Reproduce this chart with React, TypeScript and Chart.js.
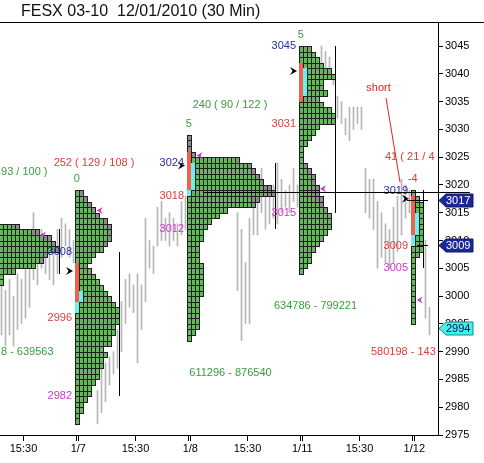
import React, { useEffect, useRef } from 'react';
import { Chart, registerables } from 'chart.js';

Chart.register(...registerables);

const TITLE = 'FESX 03-10  12/01/2010 (30 Min)';
const FONT = '"Liberation Sans", Arial, sans-serif';

// price axis
const Y_MIN = 2975;
const Y_MAX = 3049.32;
const Y_STEP = 5;

// time axis in 30-minute bar units (1/7 session start = 0, 28 bars per session)
const X_MIN = -18.875;
const X_MAX = 90.625;
const SESSION_STARTS = [-28, 0, 28, 56, 84];
const SESSION_DATES = ['1/6', '1/7', '1/8', '1/11', '1/12'];
const DATE_TICK_OFFSETS = [0.15, 0.7];
const MIDDAY_OFFSET = 15;
const MIDDAY_LABEL = '15:30';

// gray 30-minute bars (high / low), starting at bar index *_FIRST of each session
const BARS_0106_FIRST = 9;
const BARS_0106_HIGH = [3002, 3001, 3003, 3000, 3004, 3003, 3005, 3006, 3015, 3010, 3012, 3011, 3010, 3009, 3012, 3014, 3013, 3012, 3010];
const BARS_0106_LOW = [2993, 2991, 2993, 2991, 2994, 2995, 2996, 2998, 3003, 3002, 3005, 3004, 3003, 3002, 3004, 3007, 3009, 3007, 3006];
const BARS_0107_FIRST = 5;
const BARS_0107_HIGH = [2983, 2987, 2988, 2989, 2990, 2994, 2999, 3003, 3004, 3002, 3004, 3002, 3014, 3010, 3009, 3016, 3017, 3014, 3015, 3014, 3013, 3017, 3018];
const BARS_0107_LOW = [2977, 2979, 2981, 2984, 2986, 2987, 2990, 2995, 2998, 2997, 2988, 2994, 2999, 3005, 3004, 3009, 3010, 3010, 3009, 3010, 3009, 3011, 3012];
const BARS_0108_FIRST = 12;
const BARS_0108_HIGH = [3015, 3012, 3006, 3014, 3016, 3017, 3023, 3018, 3018, 3020, 3024, 3021, 3019, 3020, 3023, 3020];
const BARS_0108_LOW = [3001, 2992, 2995, 2995, 3011, 3011, 3015, 3012, 3013, 3014, 3013, 3015, 3016, 3015, 3017, 3016];
const BARS_0111_FIRST = 5;
const BARS_0111_HIGH = [3045, 3044, 3043, 3040, 3036, 3035, 3032, 3034, 3034, 3034, 3034, 3023, 3021, 3021, 3017, 3015, 3013, 3012, 3016, 3018, 3021, 3020, 3019];
const BARS_0111_LOW = [3041, 3040, 3039, 3038, 3032, 3031, 3029, 3028, 3030, 3031, 3030, 3015, 3014, 3012, 3005, 3007, 3006, 3005, 3006, 3008, 3011, 3014, 3015];
const BARS_0112_FIRST = 3;
const BARS_0112_HIGH = [3010, 2998];
const BARS_0112_LOW = [2996, 2993];

// TPO profiles: row widths (TPO count) from the top price down, gray TPOs at the end of each row
const P1_TOP = 3012;
const P1_WIDTH = [14, 19, 22, 23, 24, 21, 20, 18, 13, 10, 10];
const P1_GRAY = [2, 2, 2, 1, 1, 1, 1, 0, 0, 0, 0];
const P2_TOP = 3018;
const P2_WIDTH = [2, 3, 4, 5, 6, 8, 9, 9, 9, 8, 7, 5, 4, 3, 4, 5, 6, 7, 8, 9, 10, 11, 11, 11, 10, 10, 9, 9, 7, 8, 7, 7, 6, 6, 5, 4, 4, 3, 2, 2, 1, 1];
const P2_GRAY = [1, 1, 1, 1, 1, 1, 1, 1, 1, 1, 0, 0, 0, 0, 0, 0, 0, 0, 0, 0, 0, 0, 0, 0, 0, 0, 0, 0, 0, 0, 0, 0, 0, 0, 0, 0, 0, 0, 0, 0, 0, 0];
const P3_TOP = 3028;
const P3_WIDTH = [1, 1, 1, 2, 13, 16, 17, 18, 19, 21, 22, 18, 17, 10, 8, 6, 5, 4, 4, 3, 3, 3, 3, 4, 4, 4, 4, 4, 4, 3, 3, 3, 3, 3, 3, 2, 1];
const P3_GRAY = [1, 1, 1, 1, 1, 1, 1, 1, 1, 2, 2, 2, 1, 0, 0, 0, 0, 0, 0, 0, 0, 0, 0, 0, 0, 0, 0, 0, 0, 0, 0, 0, 0, 0, 0, 0, 0];
const P4_TOP = 3044;
const P4_WIDTH = [3, 4, 5, 6, 8, 9, 6, 6, 7, 5, 6, 8, 9, 9, 5, 4, 3, 2, 1, 1, 1, 2, 3, 4, 4, 5, 5, 6, 6, 7, 8, 8, 8, 7, 6, 5, 4, 3, 3, 2, 1];
const P4_GRAY = [0, 0, 0, 0, 0, 0, 0, 0, 0, 0, 0, 0, 0, 0, 0, 0, 0, 0, 0, 0, 0, 1, 1, 1, 1, 2, 2, 2, 1, 1, 0, 0, 0, 0, 0, 0, 0, 0, 0, 0, 0];
const P5_TOP = 3018;
const P5_WIDTH = [1, 2, 3, 3, 3, 3, 3, 3, 3, 3, 3, 2, 1, 1, 1, 1, 1, 1, 1, 1, 1, 1, 1, 1];
const P5_GRAY = [0, 0, 0, 0, 0, 0, 0, 0, 0, 0, 0, 0, 0, 0, 0, 0, 0, 0, 0, 0, 0, 0, 0, 0];

// coloured runs (high price, low price): red first column, cyan first / second column
const RED_COL0 = [null, [3005, 2999], [3025, 3019], [3041, 3035], [3017, 3011]];
const CYAN_COL0 = [null, [2998, 2997], [3018, 3018], null, [3010, 3009]];
const CYAN_COL1 = [null, [3000, 2999], [3023, 3019], [3040, 3036], [3014, 3011]];

// value area / levels per profile
const VAH = [3012, 3008, 3024, 3045, 3019];
const POC = [3008, 2996, 3018, 3031, 3009];
const VAL = [3004, 2982, 3012, 3015, 3005];
const OPEN = [NaN, 3004, 3023, 3040, 3017];
const TPO_COUNT = ['', '0', '5', '5', '-4'];

// close markers (magenta)
const CLOSE_MARK_U = [-8.875, 5.3, 30.3, 61.125, 85.3];
const CLOSE_MARK_P = [3011, 3015.4, 3025.3, 3019.3, 2999.3];

// summary and volume texts
const SUMMARY_TEXT = ['93 / 100 )', '252 ( 129 / 108 )', '240 ( 90 / 122 )', '', '41 ( 21 / 4'];
const SUMMARY_U = [-7.0, 4.625, 38.625, 0, 77.375];
const SUMMARY_P = [3022.3, 3023.9, 3034.4, 0, 3025.0];
const SUMMARY_ALIGN = ['right', 'center', 'center', 'center', 'left'];
const SUMMARY_NEG = [false, true, false, false, true];
const VOLUME_TEXT = ['8 - 639563', '', '611296 - 876540', '634786 - 799221', '580198 - 143'];
const VOLUME_U = [-5.5, 0, 38.75, 60.0, 73.875];
const VOLUME_P = [2989.9, 0, 2986.1, 2998.2, 2989.9];
const VOLUME_ALIGN = ['right', 'center', 'center', 'center', 'left'];
const VOLUME_NEG = [false, false, false, false, true];

// reference line, short levels, tags, annotation
const REF_LINE_PRICE = 3018.75;
const REF_LINE_FROM = 32;
const REF_LINE_TO = 98.6;
const LEVEL_PRICES = [3017, 3009];
const LEVEL_FROM = [82.875, 85.375];
const LEVEL_TO = 88.125;
const TAG_PRICES = [3017, 3009, 2994];
const TAG_CYAN = [false, false, true];
const NOTE_TEXT = 'short';
const NOTE_TEXT_POS = [75.75, 3037.4];
const NOTE_LINE = [77.625, 3035.64, 81.125, 3020.53];

// colours
const CELL_GREEN = '#64b95c';
const CELL_GRAY = '#8c8c8c';
const CELL_RED = '#f0604a';
const CELL_CYAN = '#6cf0ee';
const CELL_EDGE = '#1e1e1e';
const BAR_COLOR = '#b6b6b6';
const TXT_GREEN = '#3b9b3b';
const TXT_RED = '#de3b3b';
const TXT_BLUE = '#2a2ca0';
const TXT_MAGENTA = '#cc36cc';

const PROFILES = [
  { day: SESSION_STARTS[0], top: P1_TOP, width: P1_WIDTH, gray: P1_GRAY },
  { day: SESSION_STARTS[1], top: P2_TOP, width: P2_WIDTH, gray: P2_GRAY },
  { day: SESSION_STARTS[2], top: P3_TOP, width: P3_WIDTH, gray: P3_GRAY },
  { day: SESSION_STARTS[3], top: P4_TOP, width: P4_WIDTH, gray: P4_GRAY },
  { day: SESSION_STARTS[4], top: P5_TOP, width: P5_WIDTH, gray: P5_GRAY },
];

const barPoints: { x: number; y: [number, number] }[] = [];
const addBars = (session: number, first: number, hi: number[], lo: number[]) =>
  hi.forEach((h, k) => barPoints.push({ x: session + first + k + 0.5, y: [lo[k], h] }));
addBars(SESSION_STARTS[0], BARS_0106_FIRST, BARS_0106_HIGH, BARS_0106_LOW);
addBars(SESSION_STARTS[1], BARS_0107_FIRST, BARS_0107_HIGH, BARS_0107_LOW);
addBars(SESSION_STARTS[2], BARS_0108_FIRST, BARS_0108_HIGH, BARS_0108_LOW);
addBars(SESSION_STARTS[3], BARS_0111_FIRST, BARS_0111_HIGH, BARS_0111_LOW);
addBars(SESSION_STARTS[4], BARS_0112_FIRST, BARS_0112_HIGH, BARS_0112_LOW);

const X_TICKS: { value: number; label: string }[] = [];
SESSION_STARTS.forEach((s, k) => {
  X_TICKS.push({ value: s + DATE_TICK_OFFSETS[0], label: '' });
  X_TICKS.push({ value: s + DATE_TICK_OFFSETS[1], label: SESSION_DATES[k] });
  X_TICKS.push({ value: s + MIDDAY_OFFSET, label: MIDDAY_LABEL });
});
const X_TICKS_IN = X_TICKS.filter((t) => t.value >= X_MIN && t.value <= X_MAX).sort((a, b) => a.value - b.value);

const inRun = (run: any, p: number) => !!run && p <= run[0] && p >= run[1];

const mpPlugin = {
  id: 'marketProfile',
  afterDatasetsDraw(chart: any) {
    const { ctx, chartArea: a } = chart;
    const xs = chart.scales.x;
    const ys = chart.scales.y;
    const X = (u: number) => xs.getPixelForValue(u);
    const Y = (p: number) => ys.getPixelForValue(p);
    ctx.save();
    ctx.beginPath();
    ctx.rect(a.left, a.top, a.right - a.left, a.bottom - a.top);
    ctx.clip();

    PROFILES.forEach((pr, k) => {
      pr.width.forEach((w, r) => {
        const price = pr.top - r;
        const yT = Math.round(Y(price + 1));
        const yB = Math.round(Y(price));
        for (let c = 0; c < w; c++) {
          const x0 = Math.floor(X(pr.day + c));
          const x1 = Math.floor(X(pr.day + c + 1));
          let fill = CELL_GREEN;
          let special = false;
          if (c >= w - pr.gray[r]) fill = CELL_GRAY;
          if (c === 0 && inRun(RED_COL0[k], price)) { fill = CELL_RED; special = true; }
          if (c === 0 && inRun(CYAN_COL0[k], price)) { fill = CELL_CYAN; special = true; }
          if (c === 1 && inRun(CYAN_COL1[k], price)) { fill = CELL_CYAN; special = true; }
          ctx.fillStyle = fill;
          ctx.fillRect(x0, yT, x1 - x0, yB - yT);
          if (!special) {
            ctx.strokeStyle = CELL_EDGE;
            ctx.lineWidth = 1;
            ctx.strokeRect(x0 + 0.5, yT + 0.5, x1 - x0, yB - yT);
          }
        }
      });
    });

    // value-area lines
    ctx.strokeStyle = '#000';
    ctx.lineWidth = 1;
    PROFILES.forEach((pr, k) => {
      const maxW = Math.max(...pr.width);
      const xv = Math.floor(X(pr.day + maxW)) + 0.5;
      ctx.beginPath();
      ctx.moveTo(xv, Math.round(Y(VAH[k])));
      ctx.lineTo(xv, Math.round(Y(VAL[k])));
      ctx.stroke();
    });

    // short levels
    LEVEL_PRICES.forEach((p, k) => {
      const yy = Math.round(Y(p + 0.25)) + 0.5;
      ctx.beginPath();
      ctx.moveTo(X(LEVEL_FROM[k]), yy);
      ctx.lineTo(X(LEVEL_TO), yy);
      ctx.stroke();
    });

    // open arrows
    ctx.fillStyle = '#000';
    PROFILES.forEach((pr, k) => {
      if (isNaN(OPEN[k])) return;
      const tx = Math.floor(X(pr.day)) - 2;
      const ty = Y(OPEN[k] + 0.5);
      ctx.beginPath();
      ctx.moveTo(tx, ty);
      ctx.lineTo(tx - 7, ty - 4);
      ctx.lineTo(tx - 4.5, ty);
      ctx.lineTo(tx - 7, ty + 4);
      ctx.closePath();
      ctx.fill();
    });

    // close markers
    ctx.fillStyle = TXT_MAGENTA;
    CLOSE_MARK_U.forEach((u, k) => {
      const tx = X(u);
      const ty = Y(CLOSE_MARK_P[k]);
      ctx.beginPath();
      ctx.moveTo(tx, ty);
      ctx.lineTo(tx + 6, ty - 3.5);
      ctx.lineTo(tx + 4, ty);
      ctx.lineTo(tx + 6, ty + 3.5);
      ctx.closePath();
      ctx.fill();
    });

    // texts
    ctx.font = '11px ' + FONT;
    ctx.textBaseline = 'middle';
    const txt = (s: string, x: number, y: number, color: string, align: string) => {
      if (!s) return;
      ctx.fillStyle = color;
      ctx.textAlign = align;
      ctx.fillText(s, x, y);
    };
    PROFILES.forEach((pr, k) => {
      const xr = Math.floor(X(pr.day)) - 3;
      txt(String(VAH[k]), xr, Y(VAH[k]), TXT_BLUE, 'right');
      txt(String(POC[k]), xr, Y(POC[k]), TXT_RED, 'right');
      txt(String(VAL[k]), xr, Y(VAL[k]), TXT_MAGENTA, 'right');
      const cnt = TPO_COUNT[k];
      txt(cnt, X(pr.day + 0.3), Y(pr.top + 3), cnt.startsWith('-') ? TXT_RED : TXT_GREEN, 'center');
      txt(SUMMARY_TEXT[k], X(SUMMARY_U[k]), Y(SUMMARY_P[k]), SUMMARY_NEG[k] ? TXT_RED : TXT_GREEN, SUMMARY_ALIGN[k]);
      txt(VOLUME_TEXT[k], X(VOLUME_U[k]), Y(VOLUME_P[k]), VOLUME_NEG[k] ? TXT_RED : TXT_GREEN, VOLUME_ALIGN[k]);
    });

    // annotation
    txt(NOTE_TEXT, X(NOTE_TEXT_POS[0]), Y(NOTE_TEXT_POS[1]), '#e02020', 'center');
    ctx.strokeStyle = '#e02020';
    ctx.beginPath();
    ctx.moveTo(X(NOTE_LINE[0]), Y(NOTE_LINE[1]));
    ctx.lineTo(X(NOTE_LINE[2]), Y(NOTE_LINE[3]));
    ctx.stroke();
    ctx.restore();

    // reference line, runs past the price axis
    ctx.save();
    ctx.strokeStyle = '#000';
    ctx.lineWidth = 1;
    const yr = Math.round(Y(REF_LINE_PRICE)) + 0.5;
    ctx.beginPath();
    ctx.moveTo(X(REF_LINE_FROM), yr);
    ctx.lineTo(X(REF_LINE_TO), yr);
    ctx.stroke();
    ctx.restore();
  },
  afterDraw(chart: any) {
    const { ctx, chartArea: a } = chart;
    const ys = chart.scales.y;
    ctx.save();
    // price tags
    ctx.font = '11px ' + FONT;
    ctx.textBaseline = 'middle';
    ctx.textAlign = 'left';
    TAG_PRICES.forEach((p, k) => {
      const yc = Math.round(ys.getPixelForValue(p + 0.25)) + 0.5;
      const x0 = a.right + 1;
      ctx.beginPath();
      ctx.moveTo(x0, yc);
      ctx.lineTo(x0 + 7, yc - 6.5);
      ctx.lineTo(x0 + 34, yc - 6.5);
      ctx.lineTo(x0 + 34, yc + 6.5);
      ctx.lineTo(x0 + 7, yc + 6.5);
      ctx.closePath();
      ctx.fillStyle = TAG_CYAN[k] ? '#44f0ea' : '#1c2898';
      ctx.fill();
      ctx.strokeStyle = TAG_CYAN[k] ? '#138a88' : '#101860';
      ctx.lineWidth = 1;
      ctx.stroke();
      ctx.fillStyle = TAG_CYAN[k] ? '#10105a' : '#ffffff';
      ctx.fillText(String(p), x0 + 7, yc + 0.5);
    });
    // title
    ctx.fillStyle = '#111';
    ctx.font = '16px ' + FONT;
    ctx.textBaseline = 'alphabetic';
    ctx.fillText(TITLE, 21, 16);
    ctx.strokeStyle = '#000';
    ctx.beginPath();
    ctx.moveTo(0, 22.5);
    ctx.lineTo(chart.width, 22.5);
    ctx.stroke();
    ctx.restore();
  },
};

export default function App() {
  const ref = useRef<HTMLCanvasElement>(null);
  useEffect(() => {
    const chart = new Chart(ref.current as HTMLCanvasElement, {
      type: 'bar',
      data: {
        datasets: [
          {
            data: barPoints as any,
            backgroundColor: BAR_COLOR,
            borderWidth: 0,
            barThickness: 1,
            grouped: false,
          } as any,
        ],
      },
      options: {
        animation: false,
        responsive: false,
        devicePixelRatio: 1,
        events: [],
        layout: { padding: { top: 22, left: 0, right: 0, bottom: 0 } },
        plugins: { legend: { display: false }, tooltip: { enabled: false }, title: { display: false } },
        scales: {
          x: {
            type: 'linear',
            min: X_MIN,
            max: X_MAX,
            offset: false,
            afterBuildTicks: (s: any) => {
              s.ticks = X_TICKS_IN.map((t) => ({ value: t.value }));
            },
            afterFit: (s: any) => {
              s.height = 28;
            },
            ticks: {
              autoSkip: false,
              maxRotation: 0,
              minRotation: 0,
              padding: 1,
              color: '#000',
              font: { family: FONT, size: 11 },
              callback: (_v: any, i: number) => (X_TICKS_IN[i] ? X_TICKS_IN[i].label : ''),
            },
            grid: { drawOnChartArea: false, drawTicks: true, tickLength: 6, color: '#000', offset: false },
            border: { display: true, color: '#000' },
          } as any,
          y: {
            type: 'linear',
            position: 'right',
            min: Y_MIN,
            max: Y_MAX,
            afterFit: (s: any) => {
              s.width = 46;
            },
            ticks: {
              stepSize: Y_STEP,
              includeBounds: false,
              padding: 2,
              color: '#000',
              font: { family: FONT, size: 11 },
              callback: (v: any) => String(v),
            },
            grid: { drawOnChartArea: false, drawTicks: true, tickLength: 5, color: '#000' },
            border: { display: true, color: '#000' },
          } as any,
        },
      },
      plugins: [mpPlugin as any],
    });
    return () => chart.destroy();
  }, []);
  return (
    <div style={{ position: 'absolute', left: 0, top: 0, width: 484, height: 463 }}>
      <canvas ref={ref} width={484} height={463} style={{ display: 'block' }} />
    </div>
  );
}
